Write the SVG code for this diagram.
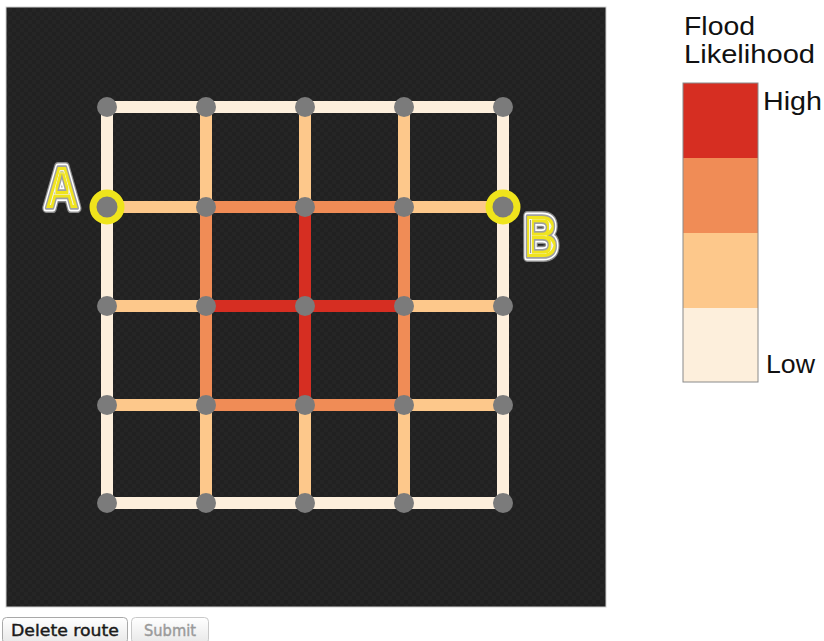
<svg xmlns="http://www.w3.org/2000/svg" width="824" height="641" viewBox="0 0 824 641">
<style>
.e{stroke-width:12;stroke-linecap:butt;fill:none}
.c0{stroke:#fdefdc}
.c1{stroke:#fdc88b}
.c2{stroke:#f08c56}
.c3{stroke:#d62e22}
.n{fill:#7b7b7b}
.end{fill:#7b7b7b;stroke:#efe41c;stroke-width:7}
.lbl{font-family:"Liberation Sans",Arial,sans-serif;font-size:25px;fill:#111}
.big{font-family:"Liberation Sans",Arial,sans-serif;font-weight:bold;font-size:60px}
.btn{font-family:"DejaVu Sans","Liberation Sans",sans-serif;font-size:15px}
</style>
<defs>
<pattern id="chk" width="8" height="8" patternUnits="userSpaceOnUse">
<rect width="8" height="8" fill="#212121"/>
<rect width="4" height="4" fill="#252525"/>
<rect x="4" y="4" width="4" height="4" fill="#252525"/>
</pattern>
<filter id="er" x="-20%" y="-20%" width="140%" height="140%">
<feMorphology operator="erode" radius="3"/>
</filter>
<filter id="er2" x="-20%" y="-20%" width="140%" height="140%">
<feMorphology operator="erode" radius="3.9"/>
</filter>
<linearGradient id="bg" x1="0" y1="0" x2="0" y2="1">
<stop offset="0" stop-color="#ffffff"/>
<stop offset="1" stop-color="#e8e8e8"/>
</linearGradient>
</defs>
<rect x="0" y="0" width="824" height="641" fill="#ffffff"/>
<rect id="board" x="6" y="7" width="600" height="600" fill="url(#chk)" stroke="#cfcfcf" stroke-width="1"/>
<g id="connectors">
<line class="e c0" x1="107" y1="107" x2="503" y2="107"/>
<line class="e c1" x1="107" y1="207" x2="206" y2="207"/>
<line class="e c2" x1="206" y1="207" x2="404" y2="207"/>
<line class="e c1" x1="404" y1="207" x2="503" y2="207"/>
<line class="e c1" x1="107" y1="306" x2="206" y2="306"/>
<line class="e c3" x1="206" y1="306" x2="404" y2="306"/>
<line class="e c1" x1="404" y1="306" x2="503" y2="306"/>
<line class="e c1" x1="107" y1="405" x2="206" y2="405"/>
<line class="e c2" x1="206" y1="405" x2="404" y2="405"/>
<line class="e c1" x1="404" y1="405" x2="503" y2="405"/>
<line class="e c0" x1="107" y1="503" x2="503" y2="503"/>
<line class="e c0" x1="107" y1="107" x2="107" y2="503"/>
<line class="e c0" x1="503" y1="107" x2="503" y2="503"/>
<line class="e c1" x1="206" y1="107" x2="206" y2="207"/>
<line class="e c2" x1="206" y1="207" x2="206" y2="405"/>
<line class="e c1" x1="206" y1="405" x2="206" y2="503"/>
<line class="e c1" x1="305" y1="107" x2="305" y2="207"/>
<line class="e c3" x1="305" y1="207" x2="305" y2="405"/>
<line class="e c1" x1="305" y1="405" x2="305" y2="503"/>
<line class="e c1" x1="404" y1="107" x2="404" y2="207"/>
<line class="e c2" x1="404" y1="207" x2="404" y2="405"/>
<line class="e c1" x1="404" y1="405" x2="404" y2="503"/>
</g>
<g id="nodes">
<circle class="n" cx="107" cy="107" r="10"/><circle class="n" cx="206" cy="107" r="10"/><circle class="n" cx="305" cy="107" r="10"/><circle class="n" cx="404" cy="107" r="10"/><circle class="n" cx="503" cy="107" r="10"/>
<circle class="n" cx="206" cy="207" r="10"/><circle class="n" cx="305" cy="207" r="10"/><circle class="n" cx="404" cy="207" r="10"/>
<circle class="n" cx="107" cy="306" r="10"/><circle class="n" cx="206" cy="306" r="10"/><circle class="n" cx="305" cy="306" r="10"/><circle class="n" cx="404" cy="306" r="10"/><circle class="n" cx="503" cy="306" r="10"/>
<circle class="n" cx="107" cy="405" r="10"/><circle class="n" cx="206" cy="405" r="10"/><circle class="n" cx="305" cy="405" r="10"/><circle class="n" cx="404" cy="405" r="10"/><circle class="n" cx="503" cy="405" r="10"/>
<circle class="n" cx="107" cy="503" r="10"/><circle class="n" cx="206" cy="503" r="10"/><circle class="n" cx="305" cy="503" r="10"/><circle class="n" cx="404" cy="503" r="10"/><circle class="n" cx="503" cy="503" r="10"/>
</g>
<g id="nodeA">
<circle class="end" cx="107" cy="207" r="14"/>
<g transform="translate(62,208) scale(0.78,1)" text-anchor="middle">
<text class="big" x="0" y="0" fill="#8a8a8a" stroke="#8a8a8a" stroke-width="10" stroke-linejoin="round">A</text>
<text class="big" x="0" y="0" fill="#ffffff" stroke="#ffffff" stroke-width="7" stroke-linejoin="round">A</text>
<text class="big" x="0" y="0" fill="#a0a0a0" stroke="#a0a0a0" stroke-width="3.5" stroke-linejoin="round">A</text>
<text class="big" x="0" y="0" fill="#f0e41e">A</text>
<text class="big" x="0" y="0" fill="#f4f4f4" filter="url(#er)">A</text>
<text class="big" x="0" y="0" fill="#8a8a8a" filter="url(#er2)">A</text>
</g>
</g>
<g id="nodeB">
<circle class="end" cx="503" cy="207" r="14"/>
<g transform="translate(541,257) scale(0.78,1)" text-anchor="middle">
<text class="big" x="0" y="0" fill="#8a8a8a" stroke="#8a8a8a" stroke-width="10" stroke-linejoin="round">B</text>
<text class="big" x="0" y="0" fill="#ffffff" stroke="#ffffff" stroke-width="7" stroke-linejoin="round">B</text>
<text class="big" x="0" y="0" fill="#a0a0a0" stroke="#a0a0a0" stroke-width="3.5" stroke-linejoin="round">B</text>
<text class="big" x="0" y="0" fill="#f0e41e">B</text>
<text class="big" x="0" y="0" fill="#f4f4f4" filter="url(#er)">B</text>
<text class="big" x="0" y="0" fill="#8a8a8a" filter="url(#er2)">B</text>
</g>
</g>
<g id="legend">
<text class="lbl" x="684" y="35" textLength="71" lengthAdjust="spacingAndGlyphs">Flood</text>
<text class="lbl" x="684" y="63" textLength="131" lengthAdjust="spacingAndGlyphs">Likelihood</text>
<rect x="683" y="83" width="75" height="75" fill="#d62e22"/>
<rect x="683" y="158" width="75" height="75" fill="#f08c56"/>
<rect x="683" y="233" width="75" height="75" fill="#fdc88b"/>
<rect x="683" y="308" width="75" height="74" fill="#fdefdc"/>
<rect x="683" y="83" width="75" height="299" fill="none" stroke="#8a8a8a" stroke-width="1"/>
<text class="lbl" x="763" y="110" textLength="59" lengthAdjust="spacingAndGlyphs">High</text>
<text class="lbl" x="766" y="373" textLength="49" lengthAdjust="spacingAndGlyphs">Low</text>
</g>
<g id="btnDelete">
<rect x="2.5" y="617.5" width="125" height="26" rx="4" fill="url(#bg)" stroke="#a8a8a8"/>
<text class="btn" x="65" y="636" text-anchor="middle" fill="#1a1a1a" stroke="#1a1a1a" stroke-width="0.4" textLength="108" lengthAdjust="spacingAndGlyphs">Delete route</text>
</g>
<g id="btnSubmit">
<rect x="131.5" y="617.5" width="77" height="26" rx="4" fill="url(#bg)" stroke="#c8c8c8"/>
<text class="btn" x="170" y="636" text-anchor="middle" fill="#9a9a9a" stroke="#9a9a9a" stroke-width="0.4" textLength="52" lengthAdjust="spacingAndGlyphs">Submit</text>
</g>
</svg>
